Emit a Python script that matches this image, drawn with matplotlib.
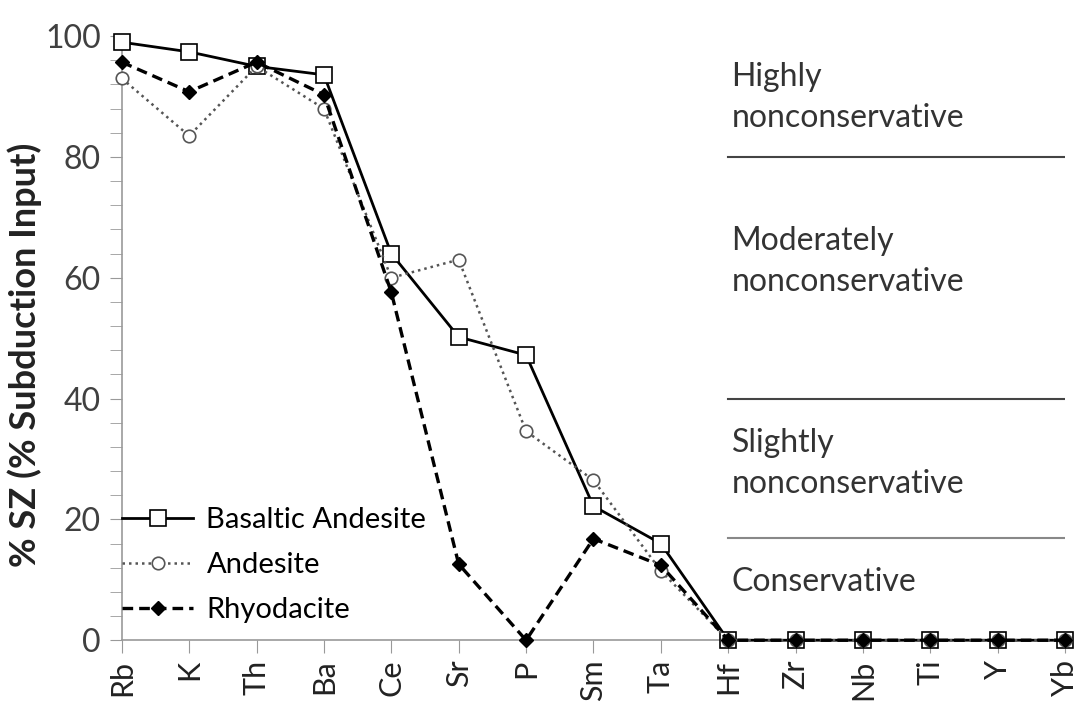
import numpy as np
import matplotlib.pyplot as plt
from matplotlib.ticker import MultipleLocator

# ── data ──────────────────────────────────────────────
elements = ["Rb", "K", "Th", "Ba", "Ce", "Sr", "P", "Sm", "Ta",
            "Hf", "Zr", "Nb", "Ti", "Y", "Yb"]
basaltic_andesite = [99.0, 97.4, 95.0, 93.6, 64.0, 50.2, 47.2, 22.2, 16.0,
                     0, 0, 0, 0, 0, 0]
andesite = [93.0, 83.5, 95.0, 88.0, 60.0, 63.0, 34.6, 26.5, 11.5,
            0, 0, 0, 0, 0, 0]
rhyodacite = [95.7, 90.8, 95.7, 90.3, 57.6, 12.6, 0.0, 16.8, 12.4,
              0, 0, 0, 0, 0, 0]

zone_bounds = [80, 40, 17]
zone_labels = ["Highly\nnonconservative", "Moderately\nnonconservative",
               "Slightly\nnonconservative", "Conservative"]
zone_label_y = [89.9, 62.7, 29.3, 9.6]

plt.rcParams["font.family"] = ["Lato", "DejaVu Sans"]

fig = plt.figure(figsize=(10.78, 7.09), dpi=100)
ax = fig.add_axes([0.113, 0.097, 0.875, 0.852])
x = np.arange(len(elements))

ax.plot(x, basaltic_andesite, color="black", lw=2.0, ls="-",
        marker="s", ms=11, mfc="white", mec="black", mew=1.2,
        label="Basaltic Andesite", clip_on=False, zorder=3)
ax.plot(x, andesite, color="#555555", lw=1.8, ls=(0, (1, 1.6)),
        marker="o", ms=9, mfc="white", mec="#555555", mew=1.2,
        label="Andesite", clip_on=False, zorder=4)
ax.plot(x, rhyodacite, color="black", lw=2.4, ls=(0, (3.2, 1.8)),
        marker="D", ms=7, mfc="black", mec="black",
        label="Rhyodacite", clip_on=False, zorder=5)

# zone boundaries and labels
for b, c in zip(zone_bounds, ["#444444", "#444444", "#888888"]):
    ax.plot([9.0, 14.0], [b, b], color=c, lw=1.5, zorder=2)
for lab, yy in zip(zone_labels, zone_label_y):
    ax.text(9.05, yy, lab, fontsize=23, color="#333333",
            va="center", ha="left", linespacing=1.45)

ax.set_xlim(0, 14)
ax.set_ylim(0, 100)
ax.set_xticks(x)
ax.set_xticklabels(elements, rotation=90, fontsize=22, color="#222222")
ax.yaxis.set_major_locator(MultipleLocator(20))
ax.yaxis.set_minor_locator(MultipleLocator(4))
ax.tick_params(axis="y", which="both", length=9, color="#999999",
               labelsize=23, labelcolor="#404040", pad=6)
ax.tick_params(axis="x", length=9, color="#999999", pad=5)
for s in ["top", "right"]:
    ax.spines[s].set_visible(False)
for s in ["left", "bottom"]:
    ax.spines[s].set_color("#999999")
    ax.spines[s].set_linewidth(1.2)

ax.set_ylabel("% SZ (% Subduction Input)", fontsize=26, fontweight="bold",
              color="#222222")
ax.yaxis.set_label_coords(-0.085, 0.472)

ax.legend(loc="lower left", bbox_to_anchor=(-0.003, 0.024), frameon=False,
          fontsize=21, handlelength=2.45, handletextpad=0.45,
          labelspacing=0.64, borderaxespad=0.0, borderpad=0.1)

fig.savefig("out.png", dpi=100)
